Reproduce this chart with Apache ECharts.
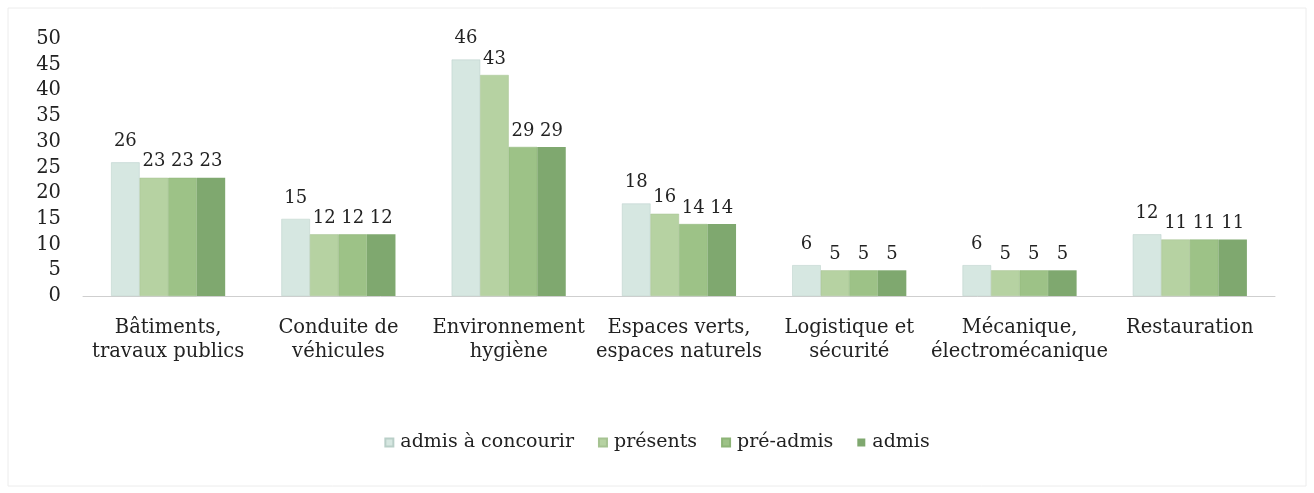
<!DOCTYPE html>
<html><head><meta charset="utf-8">
<script src="https://cdn.jsdelivr.net/npm/echarts@6/dist/echarts.min.js"></script>
<style>html,body{margin:0;padding:0;background:#fff}#c{width:1314px;height:493px}</style>
</head><body><div id="c"></div>
<script>
var categories = ['Bâtiments,\ntravaux publics','Conduite de\nvéhicules','Environnement\nhygiène','Espaces verts,\nespaces naturels','Logistique et\nsécurité','Mécanique,\nélectromécanique','Restauration'];
var seriesNames = ['admis à concourir','présents','pré-admis','admis'];
var admisConcourir = [26,15,46,18,6,6,12];
var presents = [23,12,43,16,5,5,11];
var preAdmis = [23,12,29,14,5,5,11];
var admis = [23,12,29,14,5,5,11];
var yTicks = {min:0,max:50,interval:5};
var colors = ['#d6e7e1','#b6d2a2','#9dc287','#7fa86f'];
var borders = ['#b9cfc8','#a6c392','#8db477','#3f7a3a'];
var dataArr = [admisConcourir,presents,preAdmis,admis];
var font = "'DejaVu Serif','Liberation Serif',serif";
var chart = echarts.init(document.getElementById('c'));
chart.setOption({
  backgroundColor:'#fff',
  textStyle:{fontFamily:font},
  graphic:[{type:'rect',shape:{x:8,y:8,width:1298,height:478},style:{fill:'none',stroke:'#ececec',lineWidth:1}}],
  grid:{left:83,right:39,top:39,height:257},
  legend:{bottom:36,left:'center',itemWidth:8,itemHeight:8,itemGap:24,icon:'rect',
    textStyle:{fontFamily:font,fontSize:19,color:'#222',padding:[0,0,0,2]},data:seriesNames},
  xAxis:{type:'category',data:categories,axisTick:{show:false},
    axisLine:{lineStyle:{color:'#cfcfcf'}},
    axisLabel:{fontFamily:font,fontSize:19.5,color:'#222',margin:20,lineHeight:24,interval:0}},
  yAxis:{type:'value',min:yTicks.min,max:yTicks.max,interval:yTicks.interval,splitLine:{show:false},
    axisLine:{show:false},axisTick:{show:false},
    axisLabel:{fontFamily:font,fontSize:19.5,color:'#222',margin:22}},
  series:seriesNames.map(function(n,i){return {name:n,type:'bar',data:dataArr[i],barGap:'0%',barCategoryGap:'33%',
    itemStyle:{color:colors[i],borderColor:borders[i],borderWidth:i===3?0:0.5},
    label:{show:true,position:'top',distance:i===0?12:7,fontFamily:font,fontSize:18,color:'#222'}};})
});
</script></body></html>
